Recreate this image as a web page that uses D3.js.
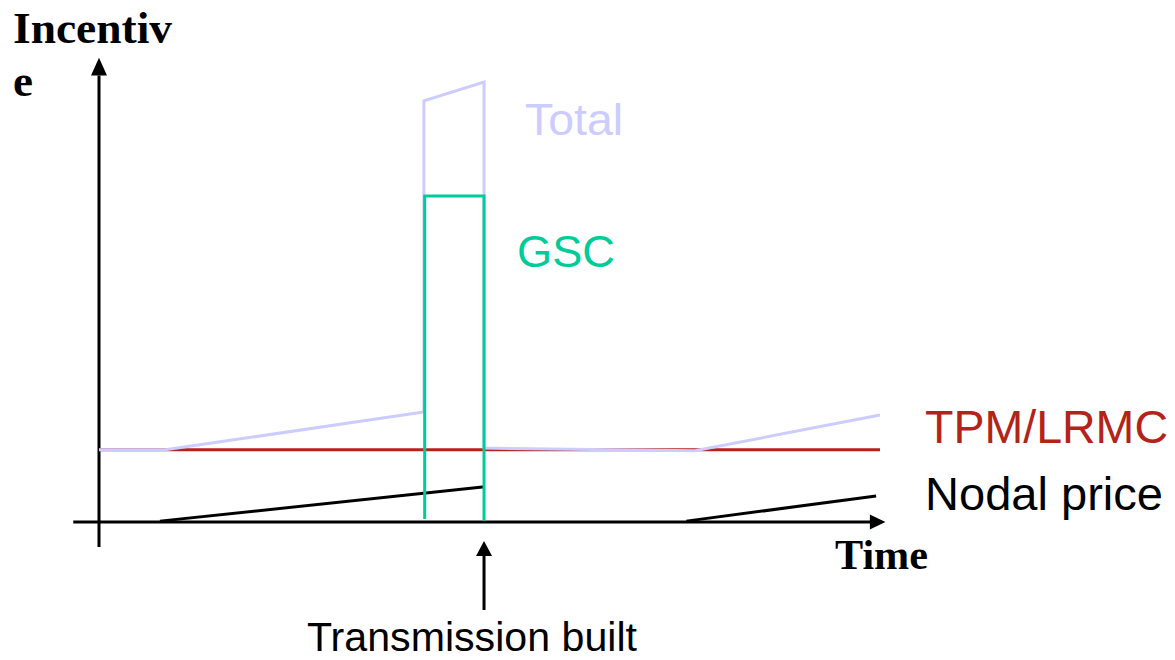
<!DOCTYPE html>
<html>
<head>
<meta charset="utf-8">
<script src="https://cdn.jsdelivr.net/npm/d3@7"></script>
<style>
  html, body { margin: 0; padding: 0; background: #fff; }
  svg { display: block; }
</style>
</head>
<body>
<script>
// ---- Data (time units 0..100, incentive units 0..100) ----
const tpmTime = [0, 100];
const tpmValue = [16.4, 16.4];

const totalTime = [0, 8.5, 41.6, 41.6, 49.3, 49.3, 76.3, 100];
const totalValue = [16.4, 16.4, 25, 95.7, 100, 16.8, 16.2, 24.3];

const gscTime = [41.7, 41.7, 49.3, 49.3];
const gscValue = [0.7, 74.1, 74.1, 0.3];

const nodalTime1 = [7.8, 49.4];
const nodalValue1 = [0.2, 8.0];
const nodalTime2 = [75.2, 99.5];
const nodalValue2 = [0.2, 5.9];

const builtTime = 49.3;

const axisLabels = ["Incentiv", "e", "Time"];
const seriesLabels = ["Total", "GSC", "TPM/LRMC", "Nodal price", "Transmission built"];

// ---- Setup ----
const W = 1175, H = 660;
const svg = d3.select("body").append("svg").attr("width", W).attr("height", H);

const x = d3.scaleLinear().domain([0, 100]).range([99, 880]);
const y = d3.scaleLinear().domain([0, 100]).range([522, 82]);

const line = d3.line().x(d => x(d[0])).y(d => y(d[1]));
const zip = (a, b) => a.map((v, i) => [v, b[i]]);

const COL_TOTAL = "#ccccff";
const COL_GSC = "#00cc99";
const COL_TPM = "#b3231a";
const SW = 3;

// ---- Axes ----
svg.append("line")
  .attr("x1", x(0)).attr("x2", x(0))
  .attr("y1", y(-5.7)).attr("y2", y(101.5))
  .attr("stroke", "#000").attr("stroke-width", SW);
svg.append("path")
  .attr("d", `M${x(0)},${y(105.5)} L${x(0) - 8},${y(101.5)} L${x(0) + 8},${y(101.5)} Z`)
  .attr("fill", "#000");
svg.append("line")
  .attr("x1", x(-3.3)).attr("x2", x(98.8))
  .attr("y1", y(0)).attr("y2", y(0))
  .attr("stroke", "#000").attr("stroke-width", SW);
svg.append("path")
  .attr("d", `M${x(100.7)},${y(0)} L${x(98.7)},${y(0) - 7.5} L${x(98.7)},${y(0) + 7.5} Z`)
  .attr("fill", "#000");

// ---- Series ----
svg.append("path").attr("d", line(zip(tpmTime, tpmValue)))
  .attr("fill", "none").attr("stroke", COL_TPM).attr("stroke-width", SW);

svg.append("path").attr("d", line(zip(totalTime, totalValue)))
  .attr("fill", "none").attr("stroke", COL_TOTAL).attr("stroke-width", SW)
  .attr("stroke-linejoin", "miter");

[zip(nodalTime1, nodalValue1), zip(nodalTime2, nodalValue2)].forEach(seg => {
  svg.append("path").attr("d", line(seg))
    .attr("fill", "none").attr("stroke", "#000").attr("stroke-width", SW);
});

svg.append("path").attr("d", line(zip(gscTime, gscValue)))
  .attr("fill", "none").attr("stroke", COL_GSC).attr("stroke-width", SW)
  .attr("stroke-linejoin", "miter");

// ---- Transmission built arrow ----
const bx = x(builtTime);
svg.append("line")
  .attr("x1", bx).attr("x2", bx).attr("y1", 610).attr("y2", 553)
  .attr("stroke", "#000").attr("stroke-width", SW);
svg.append("path")
  .attr("d", `M${bx},541 L${bx - 8},556 L${bx + 8},556 Z`)
  .attr("fill", "#000");

// ---- Text ----
const serif = "'Liberation Serif', 'Times New Roman', serif";
const sans = "'Liberation Sans', Arial, sans-serif";

svg.append("text").attr("x", 13).attr("y", 43).text(axisLabels[0])
  .attr("font-family", serif).attr("font-weight", "bold").attr("font-size", 45)
  .attr("textLength", 159).attr("lengthAdjust", "spacingAndGlyphs");
svg.append("text").attr("x", 13).attr("y", 96).text(axisLabels[1])
  .attr("font-family", serif).attr("font-weight", "bold").attr("font-size", 45);
svg.append("text").attr("x", 835).attr("y", 569).text(axisLabels[2])
  .attr("font-family", serif).attr("font-weight", "bold").attr("font-size", 42)
  .attr("textLength", 93).attr("lengthAdjust", "spacingAndGlyphs");

const labelSpec = [
  { t: seriesLabels[0], x: 525, y: 135, fs: 44, c: COL_TOTAL, w: 98 },
  { t: seriesLabels[1], x: 517, y: 267, fs: 44, c: COL_GSC, w: 98 },
  { t: seriesLabels[2], x: 925, y: 443, fs: 46, c: COL_TPM, w: 243 },
  { t: seriesLabels[3], x: 925, y: 510, fs: 46, c: "#000", w: 238 },
  { t: seriesLabels[4], x: 307, y: 651, fs: 40, c: "#000", w: 330 }
];
labelSpec.forEach(d => {
  svg.append("text").attr("x", d.x).attr("y", d.y).text(d.t)
    .attr("font-family", sans).attr("font-size", d.fs).attr("fill", d.c)
    .attr("textLength", d.w).attr("lengthAdjust", "spacingAndGlyphs");
});
</script>
</body>
</html>
